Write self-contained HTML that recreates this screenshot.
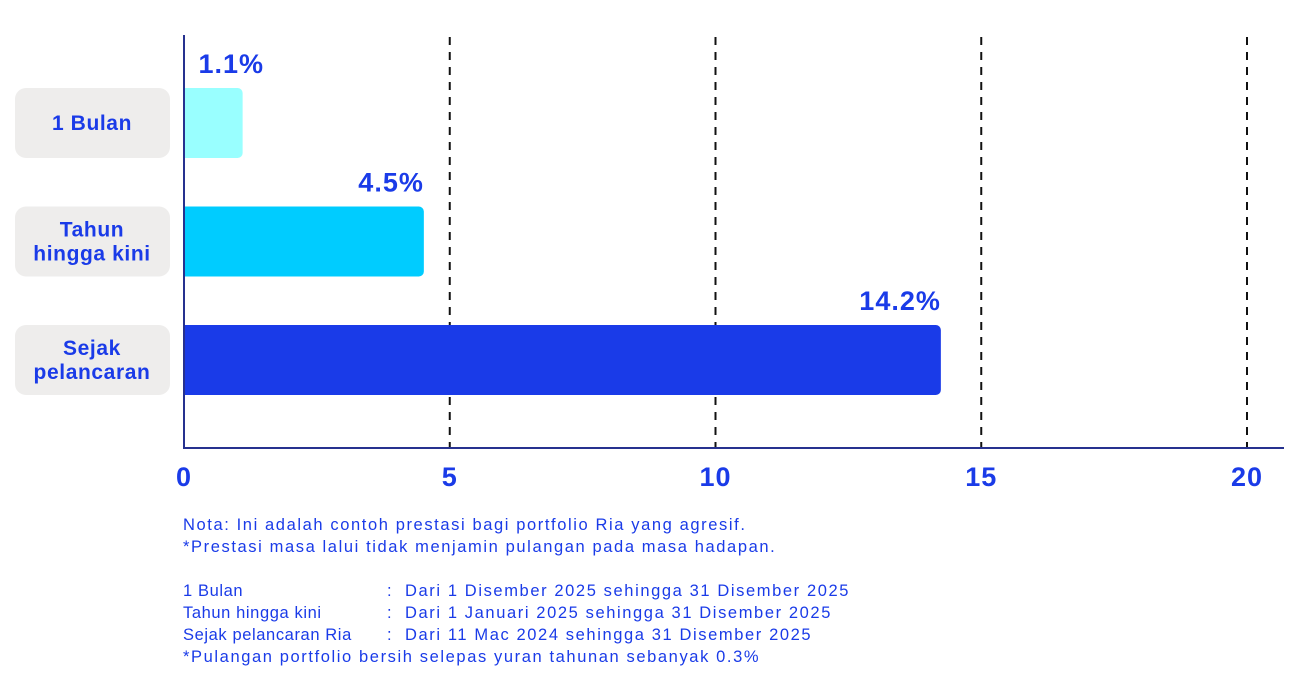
<!DOCTYPE html>
<html><head><meta charset="utf-8"><style>
body{margin:0;background:#fff;width:1300px;height:696px;overflow:hidden;font-family:"Liberation Sans",sans-serif}
svg{position:absolute;left:0;top:0}
.notes{position:absolute;left:183px;top:514px;color:#1a3be8;font-size:16.5px;line-height:22px;letter-spacing:1.6px;white-space:nowrap}
.notes .row{display:flex}.notes .k{width:204px}.notes .c{width:18px}
</style></head><body>
<svg id="chart" width="1300" height="696"></svg>
<div class="notes">
<div>Nota: Ini adalah contoh prestasi bagi portfolio Ria yang agresif.</div>
<div>*Prestasi masa lalui tidak menjamin pulangan pada masa hadapan.</div>
<div style="height:22px"></div>
<div class="row"><span class="k" style="letter-spacing:0.6px">1 Bulan</span><span class="c">:</span><span>Dari 1 Disember 2025 sehingga 31 Disember 2025</span></div>
<div class="row"><span class="k" style="letter-spacing:0.6px">Tahun hingga kini</span><span class="c">:</span><span>Dari 1 Januari 2025 sehingga 31 Disember 2025</span></div>
<div class="row"><span class="k" style="letter-spacing:0.6px">Sejak pelancaran Ria</span><span class="c">:</span><span>Dari 11 Mac 2024 sehingga 31 Disember 2025</span></div>
<div>*Pulangan portfolio bersih selepas yuran tahunan sebanyak 0.3%</div>
</div>
<script>
const categories=[["1 Bulan"],["Tahun","hingga kini"],["Sejak","pelancaran"]];
const values=[1.1,4.5,14.2];
const valueLabels=["1.1%","4.5%","14.2%"];
const ticks=[0,5,10,15,20];
const colors=["#99ffff","#00ccff","#1a3be8"];
const NS="http://www.w3.org/2000/svg";
const svg=document.getElementById('chart');
const x0=184,pxPer=53.3;
const xs=v=>x0+v*pxPer;
const rowTop=i=>88+i*118.5;
function mk(t,a,txt){const e=document.createElementNS(NS,t);for(const k in a)e.setAttribute(k,a[k]);if(txt!=null)e.textContent=txt;svg.appendChild(e);return e;}
ticks.forEach((t,i)=>{
 if(t>0){const g=mk('line',{x1:x0+t*53.15,x2:x0+t*53.15,y1:37,y2:448,stroke:'#111','stroke-width':2,'stroke-dasharray':'8,7'});
 
 }
 const l=mk('text',{x:x0+t*53.15,y:486,'text-anchor':'middle','font-size':27,'font-weight':'bold',fill:'#1a3be8','letter-spacing':1},t);
 
 
});
categories.forEach((c,i)=>{
 const y=rowTop(i);
 const b=mk('rect',{x:15,y:y,width:155,height:70,rx:11,fill:'#eeedec'});
 
 
 c.forEach((ln,j)=>{const t=mk('text',{x:92,y:y+35+7+(j-(c.length-1)/2)*24,'text-anchor':'middle','font-size':21,'font-weight':'bold',fill:'#1a3be8','letter-spacing':0.6},ln);
 
 });
 const w=xs(values[i])-x0;
 const r=mk('rect',{x:x0,y:y,width:w,height:70,rx:5,fill:colors[i]});
 
 
 mk('rect',{x:x0,y:y,width:Math.min(6,w),height:70,fill:colors[i]});
 const v=mk('text',{x:Math.max(x0+w,x0+80),y:y-15,'text-anchor':'end','font-size':27,'font-weight':'bold',fill:'#1a3be8','letter-spacing':1},valueLabels[i]);
 
 
});
const ya=mk('line',{x1:184,x2:184,y1:35,y2:449,stroke:'#26318f','stroke-width':2});


const xa=mk('line',{x1:183,x2:1284,y1:448,y2:448,stroke:'#26318f','stroke-width':2});


</script>
</body></html>
